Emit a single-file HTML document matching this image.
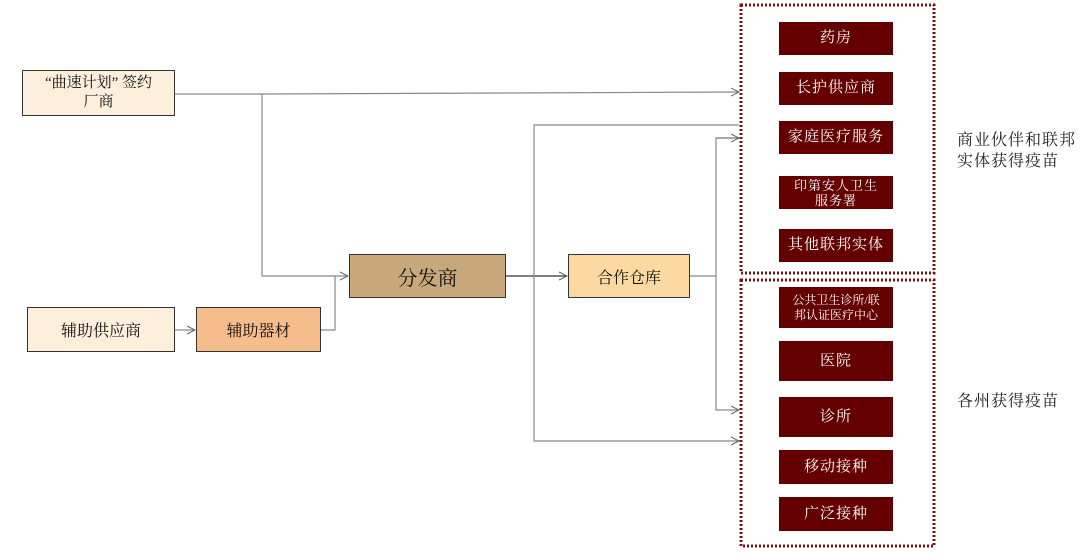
<!DOCTYPE html>
<html><head><meta charset="utf-8"><style>
body{margin:0;width:1080px;height:556px;background:#fff;position:relative;overflow:hidden;font-family:"Liberation Serif","Noto Serif CJK SC",serif}
.b{position:absolute;box-sizing:border-box;display:flex;align-items:center;justify-content:center;text-align:center;color:#111}
.k{border:1.5px solid #333}
.r{background:#640000;color:#fff;font-size:15px;letter-spacing:1px;line-height:17px}
.t{position:absolute;font-size:16px;color:#222;line-height:21px;letter-spacing:1px}
</style></head><body>
<svg width="1080" height="556" style="position:absolute;left:0;top:0">
<defs><marker id="a" markerWidth="10" markerHeight="10" refX="9" refY="5" orient="auto" markerUnits="userSpaceOnUse"><path d="M1,1 L9,5 L1,9" fill="none" stroke="#666" stroke-width="1"/></marker></defs>
<g fill="none" stroke="#888" stroke-width="1.2">
<polyline points="175,94 262,94 262,276 348,276" marker-end="url(#a)"/>
<line x1="262" y1="94" x2="739" y2="92" marker-end="url(#a)"/>
<line x1="175" y1="330" x2="195" y2="330" marker-end="url(#a)"/>
<polyline points="321,330 335,330 335,276"/>
<line x1="506" y1="276" x2="567" y2="276" marker-end="url(#a)" stroke="#333"/>
<polyline points="739,125 534,125 534,441 739,441" marker-end="url(#a)"/>
<polyline points="690,276 716,276"/>
<polyline points="739,138 716,138 716,410 739,410" marker-end="url(#a)"/>
<line x1="716" y1="138" x2="739" y2="138" marker-end="url(#a)"/>
</g>
<g fill="none" stroke="#7a1010" stroke-width="3" stroke-dasharray="2,2">
<rect x="741" y="5" width="193" height="268"/>
<rect x="741" y="280" width="193" height="266"/>
</g>
</svg>
<div class="b k" style="left:22px;top:70px;width:153px;height:46px;background:#fdefdc;font-size:15px;line-height:19px">“曲速计划” 签约<br>厂商</div>
<div class="b k" style="left:27px;top:307px;width:148px;height:45px;background:#fdefdc;font-size:16px">辅助供应商</div>
<div class="b k" style="left:196px;top:307px;width:125px;height:45px;background:#f7bc8c;font-size:16px">辅助器材</div>
<div class="b k" style="left:349px;top:254px;width:157px;height:44px;background:#c8a87a;font-size:20px">分发商</div>
<div class="b k" style="left:568px;top:254px;width:122px;height:44px;background:#fcd9a0;font-size:16px">合作仓库</div>
<div class="b r" style="left:779px;top:22px;width:114px;height:33px">药房</div>
<div class="b r" style="left:779px;top:72px;width:114px;height:33px">长护供应商</div>
<div class="b r" style="left:779px;top:121px;width:114px;height:33px">家庭医疗服务</div>
<div class="b r" style="left:779px;top:176px;width:114px;height:33px;font-size:13px;line-height:15px">印第安人卫生<br>服务署</div>
<div class="b r" style="left:779px;top:229px;width:114px;height:33px">其他联邦实体</div>
<div class="b r" style="left:779px;top:287px;width:114px;height:41px;font-size:12px;line-height:15px;letter-spacing:0">公共卫生诊所/联<br>邦认证医疗中心</div>
<div class="b r" style="left:779px;top:341px;width:114px;height:40px">医院</div>
<div class="b r" style="left:779px;top:397px;width:114px;height:40px">诊所</div>
<div class="b r" style="left:779px;top:450px;width:114px;height:34px">移动接种</div>
<div class="b r" style="left:779px;top:497px;width:114px;height:34px">广泛接种</div>
<div class="t" style="left:957px;top:130px">商业伙伴和联邦<br>实体获得疫苗</div>
<div class="t" style="left:957px;top:391px">各州获得疫苗</div>
</body></html>
